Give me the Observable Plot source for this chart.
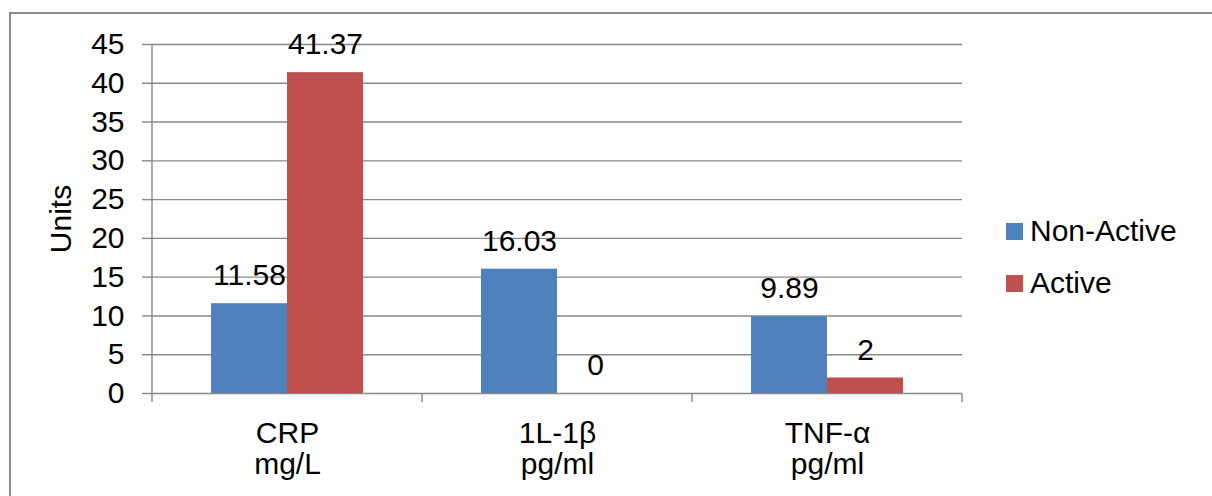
<!DOCTYPE html>
<html><head><meta charset="utf-8">
<script src="https://cdn.jsdelivr.net/npm/d3@7"></script>
<script src="https://cdn.jsdelivr.net/npm/@observablehq/plot@0.6"></script>
<style>
html,body{margin:0;padding:0;background:#fff;overflow:hidden;}
#wrap{position:relative;width:1212px;height:496px;overflow:hidden;font-family:"Liberation Sans",Arial,sans-serif;background:#fff;}
#chart{position:absolute;left:0;top:0;}
.bl{position:absolute;background:#8a8a8a;pointer-events:none;}
.leg{position:absolute;left:1006px;height:34px;font-size:30px;display:flex;align-items:center;color:#000;white-space:nowrap;}
.sw{width:17px;height:17px;margin-right:7px;}
</style></head><body>
<div id="wrap"><div id="chart"></div>
<div class="bl" style="left:9px;top:12px;width:2px;height:484px;"></div>
<div class="bl" style="left:9px;top:12px;width:1203px;height:2px;"></div>
<div id="legend"></div></div>
<script>
const categories = ["CRP\nmg/L", "1L-1β\npg/ml", "TNF-α\npg/ml"];
const series = ["Non-Active", "Active"];
const nonActive = [11.58, 16.03, 9.89];
const active = [41.37, 0, 2];
const yTicks = [0, 5, 10, 15, 20, 25, 30, 35, 40, 45];
const colors = ["#4F81BD", "#C0504D"];

const data = [];
categories.forEach((c, i) => {
  data.push({category: c, series: series[0], value: nonActive[i]});
  data.push({category: c, series: series[1], value: active[i]});
});

const gridColor = "#888";
const marginLeft = 151, marginRight = 249, marginTop = 44, marginBottom = 103;

const chart = Plot.plot({
  width: 1212,
  height: 496,
  marginLeft, marginRight, marginTop, marginBottom,
  style: {fontFamily: "'Liberation Sans', Arial, sans-serif", fontSize: "30px", background: "transparent", color: "#000"},
  fx: {domain: categories, padding: 0, label: null},
  x: {domain: series, paddingInner: 0, paddingOuter: 0.76, axis: null},
  y: {domain: [0, 45], label: null},
  color: {domain: series, range: colors},
  marks: [
    Plot.gridY(yTicks, {stroke: gridColor, strokeOpacity: 1, strokeWidth: 1.4}),
    Plot.axisY(yTicks, {anchor: "left", tickSize: 10, tickPadding: 18, stroke: gridColor, strokeWidth: 1.4, label: "Units", labelArrow: false, labelAnchor: "center", labelOffset: 103, fill: "#000"}),
    Plot.axisFx({anchor: "bottom", tickSize: 0, tickPadding: 28, lineHeight: 1.02, fill: "#000", label: null}),
    Plot.barY(data, {fx: "category", x: "series", y: "value", fill: "series"}),
    Plot.text(data, {fx: "category", x: "series", y: "value", text: d => String(d.value), dy: -28, fill: "#000"})
  ]
});
document.getElementById("chart").appendChild(chart);

// axis line and category separator ticks, positioned through the chart's scales
const ys = chart.scale("y"), fxs = chart.scale("fx");
const y0 = ys.apply(0), yTop = ys.apply(45);
const g = d3.select(chart).append("g").attr("stroke", gridColor).attr("stroke-width", 1.4);
const edges = categories.map(c => fxs.apply(c));
edges.push(edges[edges.length - 1] + fxs.bandwidth);
g.append("line").attr("x1", edges[0]).attr("x2", edges[0]).attr("y1", yTop).attr("y2", y0 + 9);
edges.slice(1).forEach(x => g.append("line").attr("x1", x).attr("x2", x).attr("y1", y0).attr("y2", y0 + 9));

// legend
const legendTops = [231, 283];
const leg = document.getElementById("legend");
series.forEach((s, i) => {
  const d = document.createElement("div");
  d.className = "leg";
  d.style.top = (legendTops[i] - 17) + "px";
  d.innerHTML = `<div class="sw" style="background:${colors[i]}"></div><span>${s}</span>`;
  leg.appendChild(d);
});
</script>
</body></html>
